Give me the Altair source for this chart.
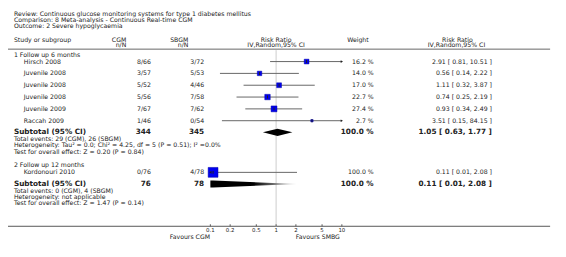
import altair as alt
import pandas as pd
import numpy as np

# ---------------- data ----------------
title_lines = [
    "Review:  Continuous glucose monitoring systems for type 1 diabetes mellitus",
    "Comparison:  8 Meta-analysis - Continuous Real-time CGM",
    "Outcome:  2 Severe hypoglycaemia",
]
groups = ["1 Follow up 6 months", "2 Follow up 12 months"]
study = ["Hirsch 2008", "Juvenile 2008", "Juvenile 2008", "Juvenile 2008",
         "Juvenile 2009", "Raccah 2009", "Kordonouri 2010"]
study_group = [0, 0, 0, 0, 0, 0, 1]
cgm_n = [8, 3, 5, 5, 7, 1, 0]
cgm_N = [66, 57, 52, 56, 67, 46, 76]
sbgm_n = [3, 5, 4, 7, 7, 0, 4]
sbgm_N = [72, 53, 46, 58, 62, 54, 78]
weight = [16.2, 14.0, 17.0, 22.7, 27.4, 2.7, 100.0]
rr = [2.91, 0.56, 1.11, 0.74, 0.93, 3.51, 0.11]
rr_lo = [0.81, 0.14, 0.32, 0.25, 0.34, 0.15, 0.01]
rr_hi = [10.51, 2.22, 3.87, 2.19, 2.49, 84.15, 2.08]

sub_cgm = [344, 76]
sub_sbgm = [345, 78]
sub_weight = [100.0, 100.0]
sub_rr = [1.05, 0.11]
sub_lo = [0.63, 0.01]
sub_hi = [1.77, 2.08]
sub_events = ["Total events: 29 (CGM), 26 (SBGM)", "Total events: 0 (CGM), 4 (SBGM)"]
sub_het = ["Heterogeneity: Tau\u00b2 = 0.0; Chi\u00b2 = 4.25, df = 5 (P = 0.51); I\u00b2 =0.0%",
           "Heterogeneity: not applicable"]
sub_test = ["Test for overall effect: Z = 0.20 (P = 0.84)",
            "Test for overall effect: Z = 1.47 (P = 0.14)"]

tick_values = [0.1, 0.2, 0.5, 1, 2, 5, 10]
favours = ["Favours CGM", "Favours SMBG"]
# header texts: (text, x, y, align)
headers = [
    ("Study or subgroup", 6, 30.3, "left"),
    ("CGM", 120, 30.3, "right"), ("n/N", 120, 36, "right"),
    ("SBGM", 183, 30.3, "right"), ("n/N", 183, 36, "right"),
    ("Risk Ratio", 272, 30.3, "center"), ("IV,Random,95% CI", 272, 36, "center"),
    ("Weight", 355, 30.3, "center"),
    ("Risk Ratio", 456, 30.3, "center"), ("IV,Random,95% CI", 455, 36, "center"),
]

# ---------------- layout ----------------
W, H = 550, 220
DMIN, DMAX = 0.1, 10
FONT = "DejaVu Sans"
TXT = "#222222"
FS = 6.3
FSB = 7.4

xs = alt.Scale(type="log", domain=[DMIN, DMAX], range=[205.3, 338.7])
ys = alt.Scale(domain=[0, H], range=[0, H], nice=False, zero=False)

rows, subs, foots, ghead = [], [], [], []
y = 45.5
for g, gname in enumerate(groups):
    ghead.append({"y": y, "text": gname})
    y += 7.1
    idx = [i for i, sg in enumerate(study_group) if sg == g]
    for k, i in enumerate(idx):
        if k > 0:
            y += 12
        lo_d = max(rr_lo[i], DMIN)
        hi_d = min(rr_hi[i], DMAX)
        rows.append({
            "y": y, "name": study[i],
            "cgm": f"{cgm_n[i]}/{cgm_N[i]}", "sbgm": f"{sbgm_n[i]}/{sbgm_N[i]}",
            "wt": f"{weight[i]:.1f} %",
            "rrt": f"{rr[i]:.2f} [ {rr_lo[i]:.2f}, {rr_hi[i]:.2f} ]",
            "est": rr[i], "lo": lo_d, "hi": hi_d, "weight": weight[i],
            "clip_lo": rr_lo[i] < DMIN, "clip_hi": rr_hi[i] > DMAX,
        })
    y += 11.8
    subs.append({"y": y, "g": g, "cgm": str(sub_cgm[g]), "sbgm": str(sub_sbgm[g]),
                 "wt": f"{sub_weight[g]:.1f} %",
                 "rrt": f"{sub_rr[g]:.2f} [ {sub_lo[g]:.2f}, {sub_hi[g]:.2f} ]"})
    for off, t in zip([6.7, 13.0, 19.5], [sub_events[g], sub_het[g], sub_test[g]]):
        foots.append({"y": y + off, "text": t})
    y += 19.5 + 14

rows_df = pd.DataFrame(rows)
subs_df = pd.DataFrame(subs)
foots_df = pd.DataFrame(foots)
ghead_df = pd.DataFrame(ghead)

# diamonds (area polygons) for subtotals, clipped to the axis domain
HH = 3.6
dia = []
for s in subs:
    g = s["g"]
    lo, est, hi = np.log10(sub_lo[g]), np.log10(sub_rr[g]), np.log10(sub_hi[g])
    def half(xl):
        if xl <= est:
            return HH * (xl - lo) / (est - lo)
        return HH * (hi - xl) / (hi - est)
    pts = [lo, est, hi]
    pts = [min(max(p, np.log10(DMIN)), np.log10(DMAX)) for p in pts]
    for p in pts:
        h = half(p)
        dia.append({"g": g, "x": 10 ** p, "y1": s["y"] - h, "y2": s["y"] + h})
dia_df = pd.DataFrame(dia)


def text_layer(df, field, x, align, size=FS, bold=False):
    return alt.Chart(df).mark_text(
        align=align, baseline="middle", font=FONT, fontSize=size,
        fontWeight="bold" if bold else "normal", color=TXT
    ).encode(x=alt.value(x), y=alt.Y("y:Q", scale=ys, axis=None), text=f"{field}:N")


layers = []
# title lines
title_df = pd.DataFrame({"y": [4, 10.3, 16.6], "text": title_lines})
layers.append(text_layer(title_df, "text", 6, "left"))
for t, x, yy, al in headers:
    layers.append(text_layer(pd.DataFrame({"y": [yy], "text": [t]}), "text", x, al))

# horizontal rules
layers.append(alt.Chart(pd.DataFrame({"y": [40]})).mark_rule(color="#666666", strokeWidth=1).encode(
    x=alt.value(0), x2=alt.value(W), y=alt.Y("y:Q", scale=ys, axis=None)))
layers.append(alt.Chart(pd.DataFrame({"y": [H - 0.3]})).mark_rule(color="#555555", strokeWidth=1).encode(
    x=alt.value(0), x2=alt.value(W), y=alt.Y("y:Q", scale=ys, axis=None)))

# reference line at 1
layers.append(alt.Chart(pd.DataFrame({"v": [1], "ya": [41], "yb": [H]})).mark_rule(
    color="#cccccc", strokeWidth=1).encode(
    x=alt.X("v:Q", scale=xs, axis=None), y=alt.Y("ya:Q", scale=ys, axis=None), y2="yb:Q"))

# group headers, names, columns
layers.append(text_layer(ghead_df, "text", 6, "left"))
layers.append(text_layer(rows_df, "name", 16, "left"))
layers.append(text_layer(rows_df, "cgm", 145, "right"))
layers.append(text_layer(rows_df, "sbgm", 199, "right"))
layers.append(text_layer(rows_df, "wt", 371, "right"))
layers.append(text_layer(rows_df, "rrt", 491, "right"))
sub_lab = pd.DataFrame({"y": subs_df["y"], "text": ["Subtotal (95% CI)"] * len(subs_df)})
layers.append(text_layer(sub_lab, "text", 6, "left", FSB, True))
layers.append(text_layer(subs_df, "cgm", 145, "right", FSB, True))
layers.append(text_layer(subs_df, "sbgm", 199, "right", FSB, True))
layers.append(text_layer(subs_df, "wt", 371, "right", FSB, True))
layers.append(text_layer(subs_df, "rrt", 491, "right", FSB, True))
layers.append(text_layer(foots_df, "text", 6, "left"))

# CI lines
layers.append(alt.Chart(rows_df).mark_rule(color="#666666", strokeWidth=1).encode(
    x=alt.X("lo:Q", scale=xs, axis=None), x2="hi:Q", y=alt.Y("y:Q", scale=ys, axis=None)))
# boxes
layers.append(alt.Chart(rows_df).mark_square(filled=True, color="#0000ee", opacity=1,
                                             stroke="#0000aa", strokeWidth=0.5).encode(
    x=alt.X("est:Q", scale=xs, axis=None), y=alt.Y("y:Q", scale=ys, axis=None),
    size=alt.Size("weight:Q", scale=alt.Scale(type="pow", exponent=0.8, domain=[0, 100], range=[0, 100]),
                  legend=None)))
# small estimate markers
layers.append(alt.Chart(rows_df).mark_tick(color="#222222", thickness=1, size=3, opacity=1).encode(
    x=alt.X("est:Q", scale=xs, axis=None), y=alt.Y("y:Q", scale=ys, axis=None)))
# arrowheads for clipped intervals
layers.append(alt.Chart(rows_df[rows_df["clip_hi"]]).mark_point(
    shape="triangle-right", filled=True, color="#222222", size=7, opacity=1).encode(
    x=alt.X("hi:Q", scale=xs, axis=None), y=alt.Y("y:Q", scale=ys, axis=None)))
layers.append(alt.Chart(rows_df[rows_df["clip_lo"]]).mark_point(
    shape="triangle-left", filled=True, color="#222222", size=7, opacity=1).encode(
    x=alt.X("lo:Q", scale=xs, axis=None), y=alt.Y("y:Q", scale=ys, axis=None)))

# diamonds
layers.append(alt.Chart(dia_df[dia_df["g"] == 0]).mark_area(color="black", opacity=1).encode(
    x=alt.X("x:Q", scale=xs, axis=None), y=alt.Y("y1:Q", scale=ys, axis=None), y2="y2:Q"))
layers.append(alt.Chart(dia_df[dia_df["g"] == 1]).mark_area(
    opacity=1,
    color=alt.Gradient(gradient="linear", x1=0, x2=1, y1=0, y2=0,
                       stops=[alt.GradientStop(color="#000000", offset=0),
                              alt.GradientStop(color="#000000", offset=0.5),
                              alt.GradientStop(color="#e8e8e8", offset=1)])).encode(
    x=alt.X("x:Q", scale=xs, axis=None), y=alt.Y("y1:Q", scale=ys, axis=None), y2="y2:Q"))

# axis ticks and labels
tick_df = pd.DataFrame({"v": tick_values, "ya": [H - 2.3] * len(tick_values), "yb": [H - 0.3] * len(tick_values),
                        "lab": [f"{v:g}" for v in tick_values], "yl": [H + 3.5] * len(tick_values)})
layers.append(alt.Chart(tick_df).mark_rule(color="#555555", strokeWidth=1).encode(
    x=alt.X("v:Q", scale=xs, axis=None), y=alt.Y("ya:Q", scale=ys, axis=None), y2="yb:Q"))
layers.append(alt.Chart(tick_df).mark_text(font=FONT, fontSize=5.5, color=TXT, baseline="middle").encode(
    x=alt.X("v:Q", scale=xs, axis=None), y=alt.Y("yl:Q", scale=ys, axis=None), text="lab:N"))
fav_df = pd.DataFrame({"y": [H + 10.7], "text": [favours[0]]})
layers.append(text_layer(fav_df, "text", 205, "right"))
fav_df2 = pd.DataFrame({"y": [H + 10.7], "text": [favours[1]]})
layers.append(text_layer(fav_df2, "text", 292, "left"))

chart = alt.layer(*layers).properties(
    width=W, height=H, padding={"left": 0, "top": 0, "right": 8, "bottom": 21},
    autosize=alt.AutoSizeParams(type="none"), background="white"
).configure_view(stroke=None)

chart.save("out.html", embed_options={"renderer": "svg", "actions": False})
